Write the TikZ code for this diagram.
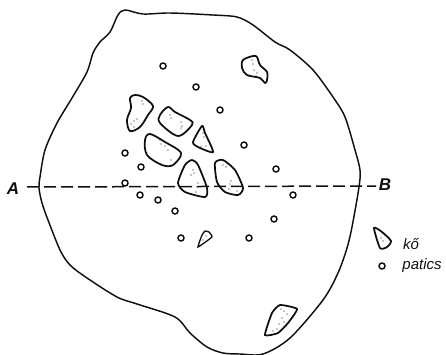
\documentclass[tikz,border=0pt]{standalone}
\usepackage{fontspec}
\setmainfont{Liberation Sans}
\usepackage{xcolor}
\definecolor{inkblack}{RGB}{15,15,15}
\usetikzlibrary{positioning}

\begin{document}
\begin{tikzpicture}[
  x=1pt, y=-1pt,
  outline/.style={line width=1.45pt, color=inkblack, smooth cycle, tension=0.5},
  stone/.style={line width=1.75pt, color=inkblack, smooth cycle, tension=0.55},
  cutline/.style={line width=1.5pt, color=inkblack, dash pattern=on 12pt off 5pt},
  patics/.style={circle, draw=inkblack, line width=1.45pt, inner sep=0pt, minimum size=6pt},
  sublabel/.style={font=\fontsize{15}{17}\selectfont\itshape, text=inkblack, inner sep=0pt}
]
\useasboundingbox (0,0) rectangle (446,355);

%% field outline
\draw[outline] plot coordinates {
  (125,10) (143,14) (170,13) (213,15) (237,17) (253,25) (275,42) (290,50) (313,70)
  (333,97) (345,117) (355,150) (360,170) (359,187) (352,227) (347,248) (338,273)
  (323,300) (290,338) (263,354) (240,354) (223,353) (207,347) (190,333) (175,317)
  (137,304) (117,297) (87,278) (70,265) (60,250) (48,220) (42,203) (39,188) (40,177)
  (45,150) (57,123) (72,98) (87,72) (93,53) (100,42) (110,32) (118,15)};

%% section line
\node[sublabel, font=\fontsize{17}{18}\selectfont\bfseries\itshape] (A) at (13,189) {A};
\node[sublabel, font=\fontsize{17}{18}\selectfont\bfseries\itshape] (B) at (385,185) {B};
\coordinate (Aend) at (27,187);
\coordinate (Bend) at (376,186);
\draw[cutline] (Aend) -- (Bend);

%% stones
\draw[stone] plot coordinates {(253,56) (243,60) (242,68) (247,75) (260,78) (265,83) (267,80) (267,72) (260,65) (257,57)};
\draw[stone] plot coordinates {(135,95) (130,98) (131,108) (127,120) (130,131) (140,127) (148,115) (153,106) (143,97)};
\draw[stone] plot coordinates {(168,107) (160,115) (160,123) (178,136) (192,125) (190,120) (175,112)};
\draw[stone, tension=0.4] plot coordinates {(202,126) (193,142) (198,147) (213,152) (205,133)};
\draw[stone] plot coordinates {(150,134) (145,140) (147,155) (162,165) (173,165) (181,153) (165,142)};
\draw[stone, tension=0.4] plot coordinates {(192,160) (185,165) (178,183) (185,192) (205,197) (207,188) (198,165)};
\draw[stone, tension=0.4] plot coordinates {(223,160) (215,163) (217,182) (225,192) (238,195) (243,188) (235,170)};
\draw[stone, line width=1.3pt, tension=0.2] plot coordinates {(205,231) (202,235) (198,247) (212,237) (209,232)};
\draw[stone, tension=0.3] plot coordinates {(280,305) (272,313) (265,335) (278,333) (288,323) (297,309)};
\draw[stone, tension=0.4] plot coordinates {(374,228) (380,248) (387,247) (391,241) (382,232)};

%% stipple
\foreach \px/\py in {252/60,253/64,254/70,257/73,256/76,142/101,143/104,131/124,134/121,137/119,134/127,
  170/115,171/118,181/122,182/126,181/128,203/133,204/137,206/146,201/147,160/140,161/144,
  165/146,168/150,171/160,193/170,194/173,191/175,198/183,197/187,196/192,223/165,226/167,
  231/181,230/184,232/186,229/189,237/191,281/309,284/311,287/314,282/318,284/322,279/324,
  277/329,273/331,381/238,383/241,206/236,203/240}
  \fill[inkblack] (\px,\py) circle (0.6pt);

%% patics
\foreach \px/\py [count=\i] in {163/66,196/87,220/110,244/145,125/153,141/167,125/183,140/195,
  158/200,175/211,181/238,249/238,274/219,293/195,276/169}
  \node[patics] (p\i) at (\px,\py) {};

%% legend
\node[patics] (legp) at (382,266) {};
\node[sublabel] (ko) at (411,244) {kő};
\node[sublabel] (pat) at (422,266) {patics};

\end{tikzpicture}
\end{document}
